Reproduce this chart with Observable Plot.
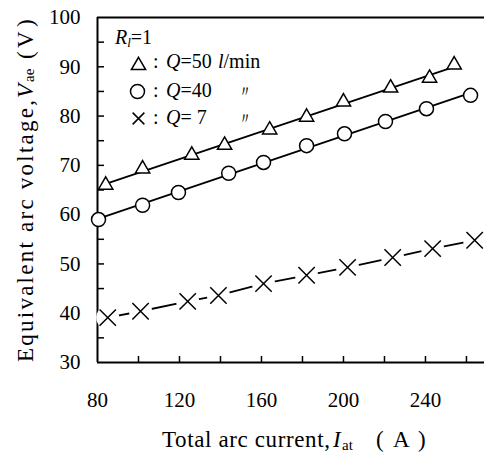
<!DOCTYPE html>
<html>
<head>
<meta charset="utf-8">
<script src="https://cdn.jsdelivr.net/npm/d3@7"></script>
<script src="https://cdn.jsdelivr.net/npm/@observablehq/plot@0.6"></script>
<style>
  html, body { margin: 0; padding: 0; background: #fff; }
  svg { overflow: visible; }
  #chart svg text, #chart svg tspan { font-family: "Liberation Serif", "DejaVu Serif", serif !important; }
</style>
</head>
<body>
<div id="chart"></div>
<script>
// Q = 50 l/min (triangles)
const currentQ50 = [84, 102, 126, 142, 164, 182, 200, 223, 242, 254];
const voltageQ50 = [66.0, 69.3, 72.1, 74.1, 77.2, 79.8, 82.9, 85.7, 87.7, 90.4];
// Q = 40 l/min (circles)
const currentQ40 = [80.5, 102, 119.5, 144, 161, 182, 200.5, 220.5, 240.5, 262];
const voltageQ40 = [59.0, 61.9, 64.5, 68.4, 70.6, 74.0, 76.4, 78.9, 81.5, 84.2];
// Q = 7 l/min (crosses)
const currentQ7 = [85, 101, 124, 139, 161, 182, 202, 224, 243.5, 264];
const voltageQ7 = [39.1, 40.4, 42.4, 43.6, 46.0, 47.7, 49.3, 51.3, 53.1, 54.8];

const xTickLabels = [80, 120, 160, 200, 240];
const xMinorTicks = [100, 120, 140, 160, 180, 200, 220, 240, 260];
const yTickLabels = [30, 40, 50, 60, 70, 80, 90, 100];
const yMinorTicks = [35, 40, 45, 50, 55, 60, 65, 70, 75, 80, 85, 90, 95];

const legendItems = [
  {symbol: "triangle", label: "Q=50"},
  {symbol: "circle", label: "Q=40"},
  {symbol: "times", label: "Q= 7"}
];

const toRows = (xs, ys) => xs.map((x, i) => ({current: x, voltage: ys[i]}));
const q50 = toRows(currentQ50, voltageQ50);
const q40 = toRows(currentQ40, voltageQ40);
const q7 = toRows(currentQ7, voltageQ7);

const serif = "Liberation Serif";

const svg = Plot.plot({
  width: 484,
  height: 454,
  marginLeft: 97,
  marginTop: 17,
  marginRight: 0,
  marginBottom: 92,
  style: "font-size: 21px; font-family: 'Liberation Serif', serif; background: #fff; color: #000;",
  x: {domain: [80, 268.8]},
  y: {domain: [30, 100]},
  marks: [
    Plot.axisY({ticks: yMinorTicks, tickSize: 7, dx: 7, tickFormat: () => "", label: null, strokeWidth: 1.5}),
    Plot.axisY({ticks: yTickLabels, tickSize: 0, tickPadding: 17, label: null, fontSize: 21, fontFamily: serif}),
    Plot.axisX({ticks: xMinorTicks, tickSize: 6, dy: -6, tickFormat: () => "", label: null, strokeWidth: 1.5}),
    Plot.axisX({ticks: xTickLabels, tickSize: 0, tickPadding: 30, label: null, fontSize: 21, fontFamily: serif}),
    Plot.ruleX([80], {strokeWidth: 2}),
    Plot.ruleY([30, 100], {strokeWidth: 2}),
    Plot.linearRegressionY(q50, {x: "current", y: "voltage", ci: 0, stroke: "#000", strokeWidth: 1.8}),
    Plot.linearRegressionY(q40, {x: "current", y: "voltage", ci: 0, stroke: "#000", strokeWidth: 1.8}),
    Plot.line(q7, {x: "current", y: "voltage", stroke: "#000", strokeWidth: 1.8}),
    Plot.dot(q7, {x: "current", y: "voltage", r: 11.5, fill: "#fff", stroke: null}),
    Plot.dot(q7, {x: "current", y: "voltage", symbol: "times", r: 7.5, stroke: "#000", strokeWidth: 1.5}),
    Plot.dot(q40, {x: "current", y: "voltage", symbol: "circle", r: 7, fill: "#fff", stroke: "#000", strokeWidth: 1.5}),
    Plot.dot(q50, {x: "current", y: "voltage", symbol: "triangle", r: 5.3, fill: "#fff", stroke: "#000", strokeWidth: 1.5}),
    // legend symbols
    Plot.dot([legendItems[0]], {frameAnchor: "top-left", dx: 41, dy: 48, symbol: "triangle", r: 5.3, fill: "#fff", stroke: "#000", strokeWidth: 1.5}),
    Plot.dot([legendItems[1]], {frameAnchor: "top-left", dx: 40, dy: 74, symbol: "circle", r: 7, fill: "#fff", stroke: "#000", strokeWidth: 1.5}),
    Plot.dot([legendItems[2]], {frameAnchor: "top-left", dx: 41, dy: 101, symbol: "times", r: 5.4, stroke: "#000", strokeWidth: 1.5})
  ]
});

document.getElementById("chart").appendChild(svg);

const s = d3.select(svg);

function addText(x, y, parts, size) {
  const t = s.append("text").attr("x", x).attr("y", y)
    .attr("text-anchor", "start").attr("font-size", size).attr("fill", "#000");
  parts.forEach(p => {
    const ts = t.append("tspan").text(p.t);
    if (p.i) ts.attr("font-style", "italic");
    if (p.size) ts.attr("font-size", p.size);
    if (p.dy) ts.attr("dy", p.dy);
  });
  return t;
}

// Legend text
addText(115, 44, [{t: "R", i: true}, {t: "l", i: true, size: 13, dy: 3}, {t: "=1", dy: -3}], 20);
const rows = [68, 97, 124];
legendItems.forEach((d, k) => {
  addText(153, rows[k], [{t: ":"}], 20);
  addText(166, rows[k], [{t: d.label[0], i: true}, {t: d.label.slice(1)}], 20);
});
addText(218, rows[0], [{t: "l", i: true}, {t: "/min"}], 20);
addText(237, rows[1], [{t: "〃"}], 16);
addText(237, rows[2], [{t: "〃"}], 16);

// X axis title
const xt = s.append("g").attr("text-anchor", "start").attr("font-size", 23).attr("fill", "#000");
xt.append("text").attr("x", 162).attr("y", 447).attr("textLength", 168).attr("lengthAdjust", "spacing").text("Total arc current,");
xt.append("text").attr("x", 333).attr("y", 447).attr("font-style", "italic").text("I");
xt.append("text").attr("x", 342).attr("y", 450).attr("font-size", 15).text("at");
xt.append("text").attr("x", 376).attr("y", 447).text("(");
xt.append("text").attr("x", 393).attr("y", 447).text("A");
xt.append("text").attr("x", 418).attr("y", 447).text(")");

// Y axis title (rotated)
const yt = s.append("g").attr("transform", "translate(33,362) rotate(-90)")
  .attr("text-anchor", "start").attr("font-size", 23).attr("fill", "#000");
yt.append("text").attr("x", 0).attr("y", 0).attr("textLength", 262).attr("lengthAdjust", "spacing").text("Equivalent arc voltage,");
yt.append("text").attr("x", 264).attr("y", 0).attr("font-style", "italic").text("V");
yt.append("text").attr("x", 280).attr("y", 1).attr("font-size", 15).text("ae");
yt.append("text").attr("x", 303).attr("y", 0).text("(");
yt.append("text").attr("x", 314).attr("y", 0).text("V");
yt.append("text").attr("x", 335).attr("y", 0).text(")");
</script>
</body>
</html>
